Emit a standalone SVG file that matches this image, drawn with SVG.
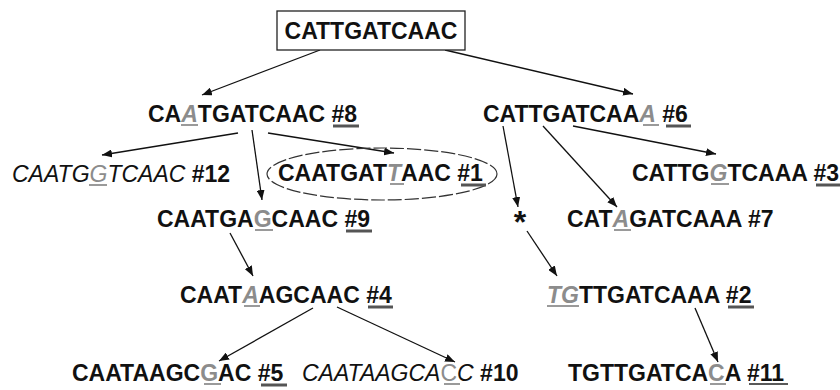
<svg xmlns="http://www.w3.org/2000/svg" width="840" height="390" viewBox="0 0 840 390">
<style>
text{font-family:"Liberation Sans",Arial,sans-serif;font-size:23px;font-weight:bold;fill:#111}
.it{font-style:italic;font-weight:normal}
.m{fill:#8c8c8c;font-style:italic}
.mu{fill:#8c8c8c}
.ul{stroke:#9a9a9a;stroke-width:2}
.un{stroke:#555;stroke-width:3}
.u1{stroke:#222;stroke-width:1.5}
.c{stroke:#111;stroke-width:1.3;fill:none;marker-end:url(#ah)}
</style>
<defs>
<marker id="ah" markerUnits="userSpaceOnUse" markerWidth="10" markerHeight="8" refX="10" refY="4" orient="auto"><path d="M0,0 L10,4 L0,8 z" fill="#111"/></marker>
</defs>
<g id="connectors">
<line class="c" x1="320" y1="50" x2="202" y2="95"/>
<line class="c" x1="445" y1="50" x2="633" y2="94"/>
<line class="c" x1="238" y1="133" x2="102" y2="155"/>
<line class="c" x1="252" y1="130" x2="262" y2="200"/>
<line class="c" x1="268" y1="133" x2="394" y2="153"/>
<line class="c" x1="230" y1="233" x2="253" y2="276"/>
<line class="c" x1="313" y1="308" x2="219" y2="361"/>
<line class="c" x1="337" y1="307" x2="455" y2="362"/>
<line class="c" x1="503" y1="126" x2="518" y2="207"/>
<line class="c" x1="543" y1="126" x2="617" y2="207"/>
<line class="c" x1="573" y1="126" x2="716" y2="154"/>
<line class="c" x1="527" y1="231" x2="557" y2="276"/>
<line class="c" x1="695" y1="308" x2="718" y2="362"/>
</g>
<g id="root">
<rect x="277" y="11" width="188" height="39" fill="#fff" stroke="#222" stroke-width="1.3"/>
<text x="371" y="39" text-anchor="middle">CATTGATCAAC</text>
</g>
<g id="n8">
<text x="148" y="122">CA<tspan class="m">A</tspan>TGATCAAC #8</text>
<line class="ul" x1="181" y1="125" x2="198" y2="125"/>
<line class="un" x1="333" y1="126" x2="359" y2="126"/>
</g>
<g id="n6">
<text x="483" y="122">CATTGATCAA<tspan class="m">A</tspan> #6</text>
<line class="ul" x1="643" y1="125" x2="659" y2="125"/>
<line class="un" x1="666" y1="126" x2="691" y2="126"/>
</g>
<g id="n12">
<text x="12" y="182"><tspan class="it">CAATG<tspan class="mu">G</tspan>TCAAC</tspan> #12</text>
<line class="ul" x1="89" y1="185" x2="107" y2="185"/>
</g>
<g id="n1">
<ellipse cx="382" cy="174" rx="115" ry="26" fill="none" stroke="#333" stroke-width="1.2" stroke-dasharray="14 3"/>
<text x="278" y="181">CAATGAT<tspan class="m">T</tspan>AAC #1</text>
<line class="ul" x1="390" y1="184" x2="404" y2="184"/>
<line class="un" x1="461" y1="185" x2="486" y2="185"/>
</g>
<g id="n3">
<text x="632" y="181">CATTG<tspan class="m">G</tspan>TCAAA #3</text>
<line class="ul" x1="711" y1="184" x2="729" y2="184"/>
<line class="un" x1="816" y1="185" x2="841" y2="185"/>
</g>
<g id="n9">
<text x="157" y="227">CAATGA<tspan class="mu">G</tspan>CAAC #9</text>
<line class="ul" x1="255" y1="230" x2="273" y2="230"/>
<line class="un" x1="346" y1="231" x2="372" y2="231"/>
</g>
<g id="star">
<text x="520" y="233" text-anchor="middle" style="font-size:32px">*</text>
</g>
<g id="n7">
<text x="567" y="227">CAT<tspan class="m">A</tspan>GATCAAA #7</text>
<line class="ul" x1="614" y1="230" x2="631" y2="230"/>
</g>
<g id="n4">
<text x="180" y="303">CAAT<tspan class="m">A</tspan>AGCAAC #4</text>
<line class="ul" x1="244" y1="306" x2="260" y2="306"/>
<line class="un" x1="368" y1="307" x2="393" y2="307"/>
</g>
<g id="n2">
<text x="547" y="303"><tspan class="m">TG</tspan>TTGATCAAA #2</text>
<line class="ul" x1="547" y1="306" x2="579" y2="306"/>
<line class="un" x1="728" y1="307" x2="754" y2="307"/>
</g>
<g id="n5">
<text x="72" y="381">CAATAAGC<tspan class="mu">G</tspan>AC #5</text>
<line class="ul" x1="204" y1="384" x2="221" y2="384"/>
<line class="un" x1="261" y1="385" x2="287" y2="385"/>
</g>
<g id="n10">
<text x="302" y="381"><tspan class="it">CAATAAGCA<tspan class="mu" style="font-style:normal">C</tspan>C</tspan> #10</text>
<line class="ul" x1="444" y1="384" x2="460" y2="384"/>
</g>
<g id="n11">
<text x="568" y="381">TGTTGATCA<tspan class="mu">C</tspan>A #11</text>
<line class="ul" x1="710" y1="384" x2="726" y2="384"/>
<line class="u1" x1="749" y1="384" x2="788" y2="384"/>
</g>
</svg>
